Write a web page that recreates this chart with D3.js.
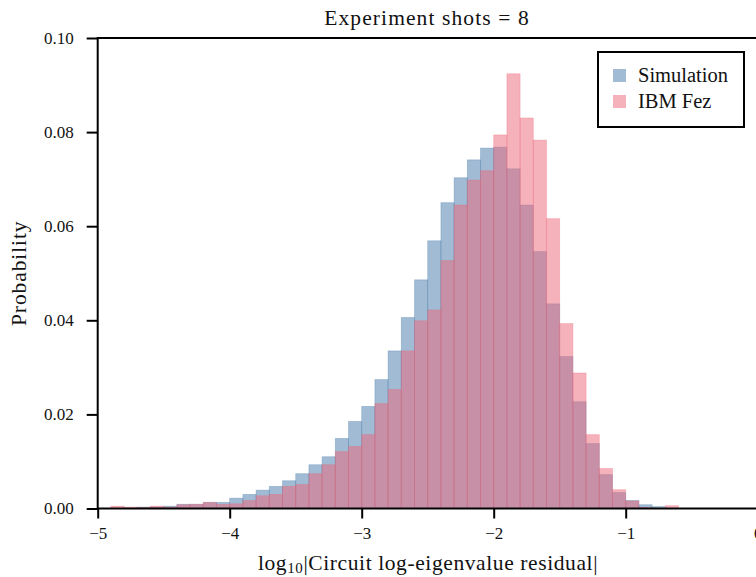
<!DOCTYPE html>
<html>
<head>
<meta charset="utf-8">
<script src="https://cdn.jsdelivr.net/npm/d3@7"></script>
<style>
  body { margin: 0; background: #fff; }
  svg { display: block; font-family: "Liberation Serif", "DejaVu Serif", serif; }
</style>
</head>
<body>
<svg id="chart" width="756" height="577"></svg>
<script>
// bin left edges (width 0.1) in log10 units
const binStarts = [-5.0, -4.9, -4.8, -4.7, -4.6, -4.5, -4.4, -4.3, -4.2, -4.1,
                   -4.0, -3.9, -3.8, -3.7, -3.6, -3.5, -3.4, -3.3, -3.2, -3.1,
                   -3.0, -2.9, -2.8, -2.7, -2.6, -2.5, -2.4, -2.3, -2.2, -2.1,
                   -2.0, -1.9, -1.8, -1.7, -1.6, -1.5, -1.4, -1.3, -1.2, -1.1,
                   -1.0, -0.9, -0.8, -0.7];
const simulation = [0, 0, 0, 0.0003, 0.0003, 0.0005, 0.0009, 0.0009, 0.0013, 0.0013,
                    0.0022, 0.0030, 0.0039, 0.0047, 0.0059, 0.0074, 0.0093, 0.0110, 0.0149, 0.0185,
                    0.0217, 0.0274, 0.0335, 0.0406, 0.0486, 0.0569, 0.0650, 0.0703, 0.0741, 0.0766,
                    0.0768, 0.0722, 0.0645, 0.0546, 0.0435, 0.0323, 0.0227, 0.0138, 0.0072, 0.0034,
                    0.0017, 0.0008, 0.0004, 0];
const ibmFez = [0, 0.0005, 0.0003, 0.0002, 0.0005, 0.0003, 0.0008, 0.0009, 0.0013, 0.0009,
                0.0010, 0.0017, 0.0027, 0.0030, 0.0047, 0.0051, 0.0074, 0.0093, 0.0121, 0.0132,
                0.0157, 0.0223, 0.0253, 0.0335, 0.0399, 0.0422, 0.0527, 0.0645, 0.0698, 0.0718,
                0.0794, 0.0924, 0.0830, 0.0783, 0.0616, 0.0393, 0.0288, 0.0157, 0.0085, 0.0040,
                0.0016, 0.0002, 0, 0.0006];
const binWidth = 0.1;
const xTicks = [-5, -4, -3, -2, -1, 0];
const yTicks = [0, 0.02, 0.04, 0.06, 0.08, 0.10];
const seriesNames = ["Simulation", "IBM Fez"];
const seriesColors = ["#4477AA", "#EE6677"];

const svg = d3.select("#chart");
const mLeft = 97.7, mRight = 757.7, mTop = 38, mBottom = 508.5;

const x = d3.scaleLinear().domain([-5, 0]).range([mLeft, mRight]);
const y = d3.scaleLinear().domain([0, 0.1]).range([mBottom, mTop]);

const fmtX = d => d3.format("d")(d).replace("-", "\u2212");

// bars: simulation first, IBM on top
[simulation, ibmFez].forEach((vals, si) => {
    svg.append("g").selectAll("rect")
        .data(binStarts.map((b, i) => ({ b: b, v: vals[i] })).filter(d => d.v > 0))
        .join("rect")
        .attr("x", d => x(d.b))
        .attr("width", d => x(d.b + binWidth) - x(d.b))
        .attr("y", d => y(d.v))
        .attr("height", d => y(0) - y(d.v))
        .attr("fill", seriesColors[si]).attr("fill-opacity", 0.5)
        .attr("stroke", seriesColors[si]).attr("stroke-opacity", 0.35).attr("stroke-width", 0.8);
});

// axes
const xAxis = svg.append("g").attr("transform", `translate(0,${mBottom})`)
    .call(d3.axisBottom(x).tickValues(xTicks).tickFormat(fmtX).tickSize(10).tickPadding(8));
const yAxis = svg.append("g").attr("transform", `translate(${mLeft},0)`)
    .call(d3.axisLeft(y).tickValues(yTicks).tickFormat(d3.format(".2f")).tickSize(11).tickPadding(13));

[xAxis, yAxis].forEach(a => {
    a.select(".domain").remove();
    a.selectAll(".tick line").attr("stroke", "#000").attr("stroke-width", 2);
    a.selectAll(".tick text").attr("fill", "#111").style("font-size", "17px")
        .style("font-family", "'Liberation Serif', serif");
});

// spines
svg.append("rect").attr("x", mLeft).attr("y", mTop)
    .attr("width", mRight - mLeft).attr("height", mBottom - mTop)
    .attr("fill", "none").attr("stroke", "#000").attr("stroke-width", 2);

// title and labels
svg.append("text").attr("x", 427).attr("y", 25)
    .attr("text-anchor", "middle").style("font-size", "21.5px").style("letter-spacing", "1.1px")
    .attr("fill", "#111").text("Experiment shots = 8");

const xl = svg.append("text").attr("x", 428).attr("y", 570)
    .attr("text-anchor", "middle").style("font-size", "21.5px").style("letter-spacing", "0.6px")
    .attr("fill", "#111");
xl.append("tspan").text("log");
xl.append("tspan").attr("dy", 3).style("font-size", "15px").text("10");
xl.append("tspan").attr("dy", -3).text("|Circuit log-eigenvalue residual|");

svg.append("text").attr("transform", `translate(26,${(mTop + mBottom) / 2}) rotate(-90)`)
    .attr("text-anchor", "middle").style("font-size", "21.5px").style("letter-spacing", "0.9px")
    .attr("fill", "#111").text("Probability");

// legend
const lg = svg.append("g").attr("transform", "translate(598,52)");
lg.append("rect").attr("width", 146).attr("height", 75)
    .attr("fill", "#fff").attr("stroke", "#000").attr("stroke-width", 2);
seriesNames.forEach((name, i) => {
    lg.append("rect").attr("x", 15).attr("y", 17 + i * 26).attr("width", 13).attr("height", 13)
        .attr("fill", seriesColors[i]).attr("fill-opacity", 0.5);
    lg.append("text").attr("x", 40).attr("y", 30 + i * 26)
        .style("font-size", "20.5px").attr("fill", "#111").text(name);
});
</script>
</body>
</html>
